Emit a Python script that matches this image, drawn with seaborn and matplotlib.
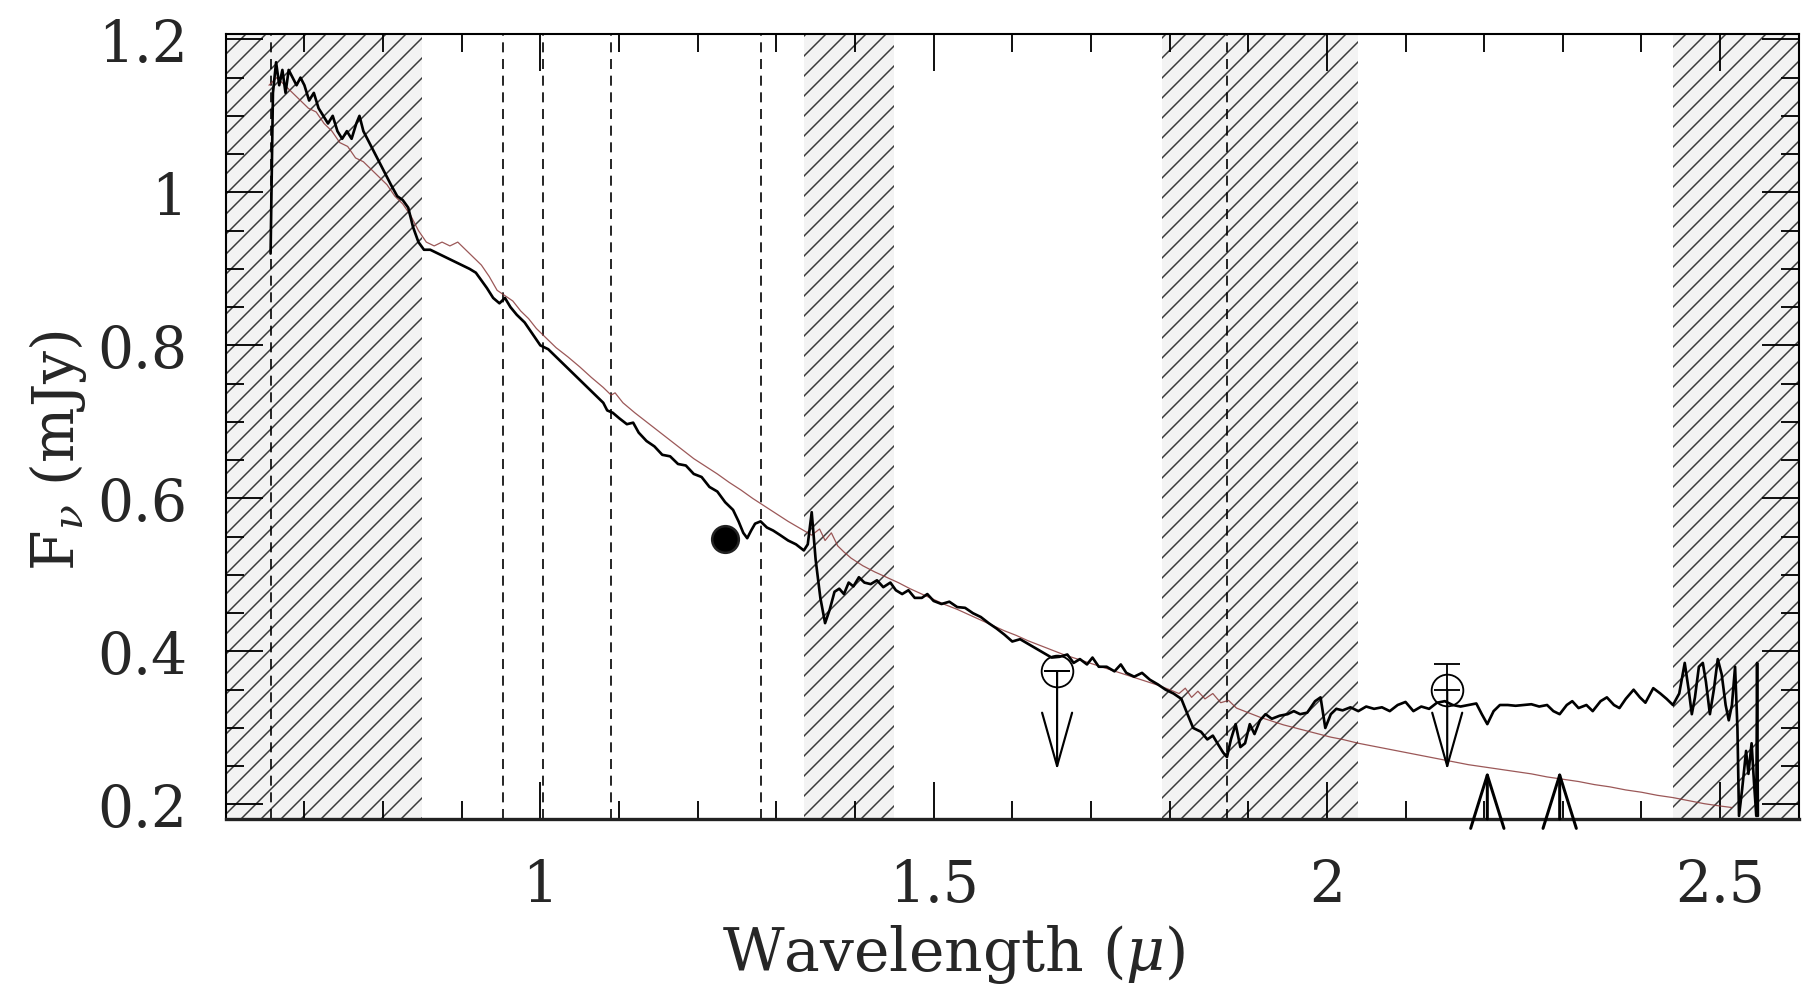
import pandas as pd
import seaborn as sns
import matplotlib.pyplot as plt
from matplotlib.ticker import MultipleLocator, FuncFormatter

sns.set_style("ticks")
plt.rcParams["font.family"] = ["DejaVu Serif"]
plt.rcParams["mathtext.fontset"] = "dejavuserif"
plt.rcParams["hatch.linewidth"] = 0.9
plt.rcParams["hatch.color"] = "#3a3a3a"

## Data
obs_wave = [0.657, 0.660, 0.664, 0.668, 0.672, 0.676, 0.680, 0.685, 0.690, 0.695,
            0.700, 0.706, 0.712, 0.718, 0.724, 0.730, 0.736, 0.742, 0.748, 0.754,
            0.760, 0.766, 0.770, 0.775, 0.780, 0.790, 0.800, 0.810, 0.818, 0.825,
            0.832, 0.838, 0.845, 0.852, 0.860, 0.870, 0.880, 0.890, 0.900, 0.910,
            0.918, 0.925, 0.932, 0.940, 0.948, 0.955, 0.962, 0.970, 0.980, 0.990,
            1.000, 1.010, 1.020, 1.030, 1.040, 1.050, 1.060, 1.070, 1.080, 1.085,
            1.092, 1.100, 1.110, 1.118, 1.125, 1.135, 1.145, 1.155, 1.165, 1.175,
            1.185, 1.195, 1.205, 1.215, 1.225, 1.235, 1.245, 1.252, 1.258, 1.263,
            1.268, 1.273, 1.280, 1.288, 1.296, 1.305, 1.315, 1.325, 1.335, 1.340,
            1.345, 1.350, 1.356, 1.362, 1.368, 1.374, 1.380, 1.386, 1.392, 1.398,
            1.405, 1.412, 1.420, 1.428, 1.436, 1.445, 1.452, 1.460, 1.468, 1.476,
            1.485, 1.492, 1.500, 1.510, 1.520, 1.530, 1.540, 1.550, 1.560, 1.570,
            1.580, 1.590, 1.600, 1.610, 1.620, 1.630, 1.640, 1.650, 1.660, 1.670,
            1.678, 1.686, 1.695, 1.702, 1.710, 1.720, 1.730, 1.738, 1.745, 1.755,
            1.765, 1.775, 1.785, 1.795, 1.805, 1.815, 1.822, 1.830, 1.840, 1.848,
            1.855, 1.862, 1.868, 1.873, 1.878, 1.884, 1.890, 1.896, 1.902, 1.908,
            1.915, 1.922, 1.930, 1.940, 1.950, 1.958, 1.966, 1.975, 1.985, 1.992,
            1.998, 2.005, 2.012, 2.020, 2.030, 2.040, 2.050, 2.060, 2.070, 2.080,
            2.090, 2.100, 2.110, 2.120, 2.130, 2.140, 2.150, 2.160, 2.170, 2.180,
            2.190, 2.197, 2.204, 2.212, 2.220, 2.230, 2.240, 2.250, 2.260, 2.270,
            2.280, 2.288, 2.296, 2.305, 2.312, 2.320, 2.330, 2.338, 2.348, 2.356,
            2.365, 2.372, 2.380, 2.390, 2.398, 2.405, 2.415, 2.424, 2.432, 2.440,
            2.448, 2.455, 2.460, 2.464, 2.468, 2.473, 2.478, 2.482, 2.487, 2.492,
            2.497, 2.502, 2.507, 2.511, 2.515, 2.519, 2.522, 2.524, 2.528, 2.533,
            2.536, 2.540, 2.543, 2.546, 2.547, 2.548]
obs_flux = [0.920, 1.130, 1.170, 1.140, 1.160, 1.130, 1.160, 1.150, 1.140, 1.150,
            1.140, 1.120, 1.130, 1.110, 1.100, 1.090, 1.100, 1.080, 1.070, 1.080,
            1.070, 1.090, 1.100, 1.080, 1.070, 1.050, 1.030, 1.010, 0.995, 0.990,
            0.980, 0.955, 0.935, 0.925, 0.925, 0.920, 0.915, 0.910, 0.905, 0.900,
            0.895, 0.885, 0.875, 0.862, 0.855, 0.862, 0.850, 0.840, 0.830, 0.815,
            0.800, 0.795, 0.785, 0.775, 0.765, 0.755, 0.745, 0.735, 0.725, 0.715,
            0.712, 0.705, 0.697, 0.699, 0.686, 0.675, 0.668, 0.657, 0.655, 0.645,
            0.643, 0.632, 0.628, 0.615, 0.609, 0.595, 0.585, 0.570, 0.555, 0.548,
            0.558, 0.567, 0.570, 0.562, 0.558, 0.552, 0.545, 0.540, 0.532, 0.540,
            0.582, 0.520, 0.470, 0.437, 0.455, 0.478, 0.482, 0.475, 0.490, 0.485,
            0.497, 0.490, 0.488, 0.493, 0.484, 0.490, 0.480, 0.475, 0.480, 0.470,
            0.470, 0.475, 0.466, 0.462, 0.465, 0.458, 0.457, 0.450, 0.445, 0.437,
            0.430, 0.422, 0.413, 0.416, 0.410, 0.404, 0.398, 0.392, 0.393, 0.396,
            0.385, 0.390, 0.383, 0.392, 0.380, 0.380, 0.374, 0.383, 0.372, 0.367,
            0.372, 0.363, 0.357, 0.350, 0.345, 0.338, 0.320, 0.300, 0.295, 0.285,
            0.290, 0.278, 0.268, 0.262, 0.285, 0.305, 0.275, 0.280, 0.305, 0.292,
            0.310, 0.318, 0.312, 0.316, 0.318, 0.322, 0.318, 0.320, 0.335, 0.340,
            0.300, 0.318, 0.325, 0.323, 0.327, 0.322, 0.328, 0.325, 0.327, 0.322,
            0.330, 0.334, 0.322, 0.328, 0.325, 0.333, 0.335, 0.330, 0.328, 0.330,
            0.332, 0.318, 0.305, 0.322, 0.330, 0.330, 0.329, 0.330, 0.331, 0.328,
            0.330, 0.322, 0.318, 0.330, 0.335, 0.326, 0.330, 0.322, 0.335, 0.340,
            0.330, 0.326, 0.338, 0.350, 0.340, 0.333, 0.352, 0.345, 0.338, 0.330,
            0.345, 0.385, 0.350, 0.318, 0.340, 0.380, 0.385, 0.360, 0.318, 0.350,
            0.390, 0.370, 0.330, 0.310, 0.330, 0.380, 0.300, 0.185, 0.220, 0.270,
            0.240, 0.280, 0.230, 0.185, 0.385, 0.185]

model_wave = [0.655, 0.665, 0.675, 0.685, 0.695, 0.705, 0.715, 0.725, 0.735, 0.745,
              0.755, 0.765, 0.775, 0.785, 0.795, 0.805, 0.815, 0.825, 0.835, 0.845,
              0.855, 0.865, 0.875, 0.885, 0.895, 0.905, 0.915, 0.925, 0.935, 0.945,
              0.955, 0.965, 0.975, 0.985, 0.995, 1.005, 1.020, 1.035, 1.050, 1.065,
              1.080, 1.090, 1.095, 1.105, 1.120, 1.135, 1.150, 1.165, 1.180, 1.195,
              1.210, 1.225, 1.240, 1.255, 1.270, 1.285, 1.300, 1.315, 1.330, 1.345,
              1.355, 1.362, 1.370, 1.378, 1.386, 1.395, 1.410, 1.425, 1.440, 1.455,
              1.470, 1.485, 1.500, 1.515, 1.530, 1.545, 1.560, 1.575, 1.590, 1.605,
              1.620, 1.635, 1.650, 1.665, 1.680, 1.695, 1.710, 1.725, 1.740, 1.755,
              1.770, 1.785, 1.800, 1.812, 1.820, 1.828, 1.836, 1.845, 1.855, 1.865,
              1.875, 1.885, 1.900, 1.915, 1.930, 1.945, 1.960, 1.975, 1.990, 2.005,
              2.020, 2.040, 2.060, 2.080, 2.100, 2.120, 2.140, 2.160, 2.180, 2.200,
              2.220, 2.240, 2.260, 2.280, 2.300, 2.320, 2.340, 2.360, 2.380, 2.400,
              2.420, 2.440, 2.460, 2.480, 2.500, 2.515]
model_flux = [1.140, 1.150, 1.140, 1.130, 1.120, 1.110, 1.105, 1.090, 1.080, 1.065,
              1.060, 1.045, 1.040, 1.030, 1.020, 1.010, 0.995, 0.985, 0.970, 0.950,
              0.935, 0.930, 0.935, 0.930, 0.935, 0.925, 0.915, 0.905, 0.890, 0.872,
              0.865, 0.858, 0.845, 0.835, 0.822, 0.812, 0.797, 0.785, 0.772, 0.758,
              0.745, 0.735, 0.738, 0.725, 0.712, 0.700, 0.688, 0.676, 0.664, 0.652,
              0.642, 0.632, 0.621, 0.611, 0.600, 0.590, 0.580, 0.570, 0.561, 0.552,
              0.560, 0.545, 0.555, 0.538, 0.530, 0.522, 0.512, 0.504, 0.497, 0.490,
              0.482, 0.475, 0.468, 0.461, 0.455, 0.448, 0.441, 0.434, 0.427, 0.421,
              0.414, 0.408, 0.402, 0.396, 0.391, 0.386, 0.381, 0.376, 0.371, 0.366,
              0.361, 0.356, 0.350, 0.345, 0.352, 0.340, 0.348, 0.338, 0.345, 0.333,
              0.336, 0.326, 0.320, 0.314, 0.309, 0.304, 0.300, 0.296, 0.292, 0.288,
              0.285, 0.280, 0.276, 0.272, 0.268, 0.264, 0.260, 0.256, 0.252, 0.249,
              0.246, 0.243, 0.240, 0.236, 0.233, 0.230, 0.226, 0.223, 0.219, 0.216,
              0.212, 0.209, 0.205, 0.201, 0.198, 0.196]

# hatched (excluded) wavelength bands
band_start = [0.60, 1.335, 1.79, 2.44]
band_end = [0.85, 1.45, 2.04, 2.60]

# dashed reference lines
line_wave = [0.657, 0.952, 1.003, 1.09, 1.28, 1.873]

# photometry
phot_wave = [1.235]
phot_flux = [0.547]
limit_wave = [1.657, 2.153]
limit_flux = [0.374, 0.350]
limit_tip = [0.245, 0.245]
err_up = [0.0, 0.034]
caret_wave = [2.204, 2.296]
caret_tip = [0.245, 0.245]

ymin, ymax = 0.181, 1.207

df_obs = pd.DataFrame({"wave": obs_wave, "flux": obs_flux})
df_model = pd.DataFrame({"wave": model_wave, "flux": model_flux})

## Plot
fig = plt.figure(figsize=(15.05, 8.2083), dpi=120)
ax = fig.add_axes([0.125, 0.1675, 0.871, 0.797])

for a, b in zip(band_start, band_end):
    ax.axvspan(a, b, facecolor="#f3f3f3", edgecolor="#3a3a3a", hatch="//",
               linewidth=0, zorder=0)

for w in line_wave:
    ax.axvline(w, color="black", linewidth=1.0, linestyle=(0, (6, 4)), zorder=1)

sns.lineplot(data=df_model, x="wave", y="flux", sort=False, estimator=None,
             color="#8a3b3b", linewidth=0.75, alpha=0.85, ax=ax, zorder=2)
sns.lineplot(data=df_obs, x="wave", y="flux", sort=False, estimator=None,
             color="black", linewidth=1.6, ax=ax, zorder=3)

ax.plot(phot_wave, phot_flux, "o", color="black", markersize=16,
        markeredgecolor="#222222", markeredgewidth=1.5, zorder=5)

for w, f, t in zip(limit_wave, limit_flux, limit_tip):
    ax.annotate("", xy=(w, t), xytext=(w, f),
                arrowprops=dict(arrowstyle="->,head_length=3.2,head_width=0.9",
                                color="black", linewidth=1.3, mutation_scale=10,
                                shrinkA=0, shrinkB=0), zorder=4)
ax.errorbar(limit_wave, limit_flux, yerr=[[0, 0], err_up], fmt="none",
            ecolor="black", elinewidth=1.1, capsize=8, capthick=1.1, zorder=4)
ax.plot(limit_wave, limit_flux, "o", markerfacecolor="none", markeredgecolor="black",
        markersize=19, markeredgewidth=1.1, zorder=5)

for w, t in zip(caret_wave, caret_tip):
    ax.annotate("", xy=(w, t), xytext=(w, ymin),
                arrowprops=dict(arrowstyle="->,head_length=3.2,head_width=1.0",
                                color="black", linewidth=1.8, mutation_scale=10,
                                shrinkA=0, shrinkB=0), zorder=4)

ax.set_xlim(0.6, 2.6)
ax.set_ylim(ymin, ymax)
ax.xaxis.set_major_locator(MultipleLocator(0.5))
ax.xaxis.set_minor_locator(MultipleLocator(0.1))
ax.yaxis.set_major_locator(MultipleLocator(0.2))
ax.yaxis.set_minor_locator(MultipleLocator(0.05))
fmt = FuncFormatter(lambda v, p: "%g" % round(v, 2))
ax.xaxis.set_major_formatter(fmt)
ax.yaxis.set_major_formatter(fmt)

ax.tick_params(which="both", direction="in", top=True, right=True,
               color="black", labelsize=34, pad=23)
ax.tick_params(which="major", length=22, width=1.1)
ax.tick_params(which="minor", length=11, width=1.1)

for side in ["left", "right", "top"]:
    ax.spines[side].set_linewidth(1.25)
    ax.spines[side].set_color("black")
ax.spines["bottom"].set_linewidth(2.0)
ax.spines["bottom"].set_color("#222222")

ax.set_xlabel(r"Wavelength ($\mu$)", fontsize=36)
ax.set_ylabel(r"F$_\nu$ (mJy)", fontsize=35)
ax.xaxis.set_label_coords(0.463, -0.131)
ax.yaxis.set_label_coords(-0.087, 0.47)

fig.savefig("out.png", dpi=120, facecolor="white")
